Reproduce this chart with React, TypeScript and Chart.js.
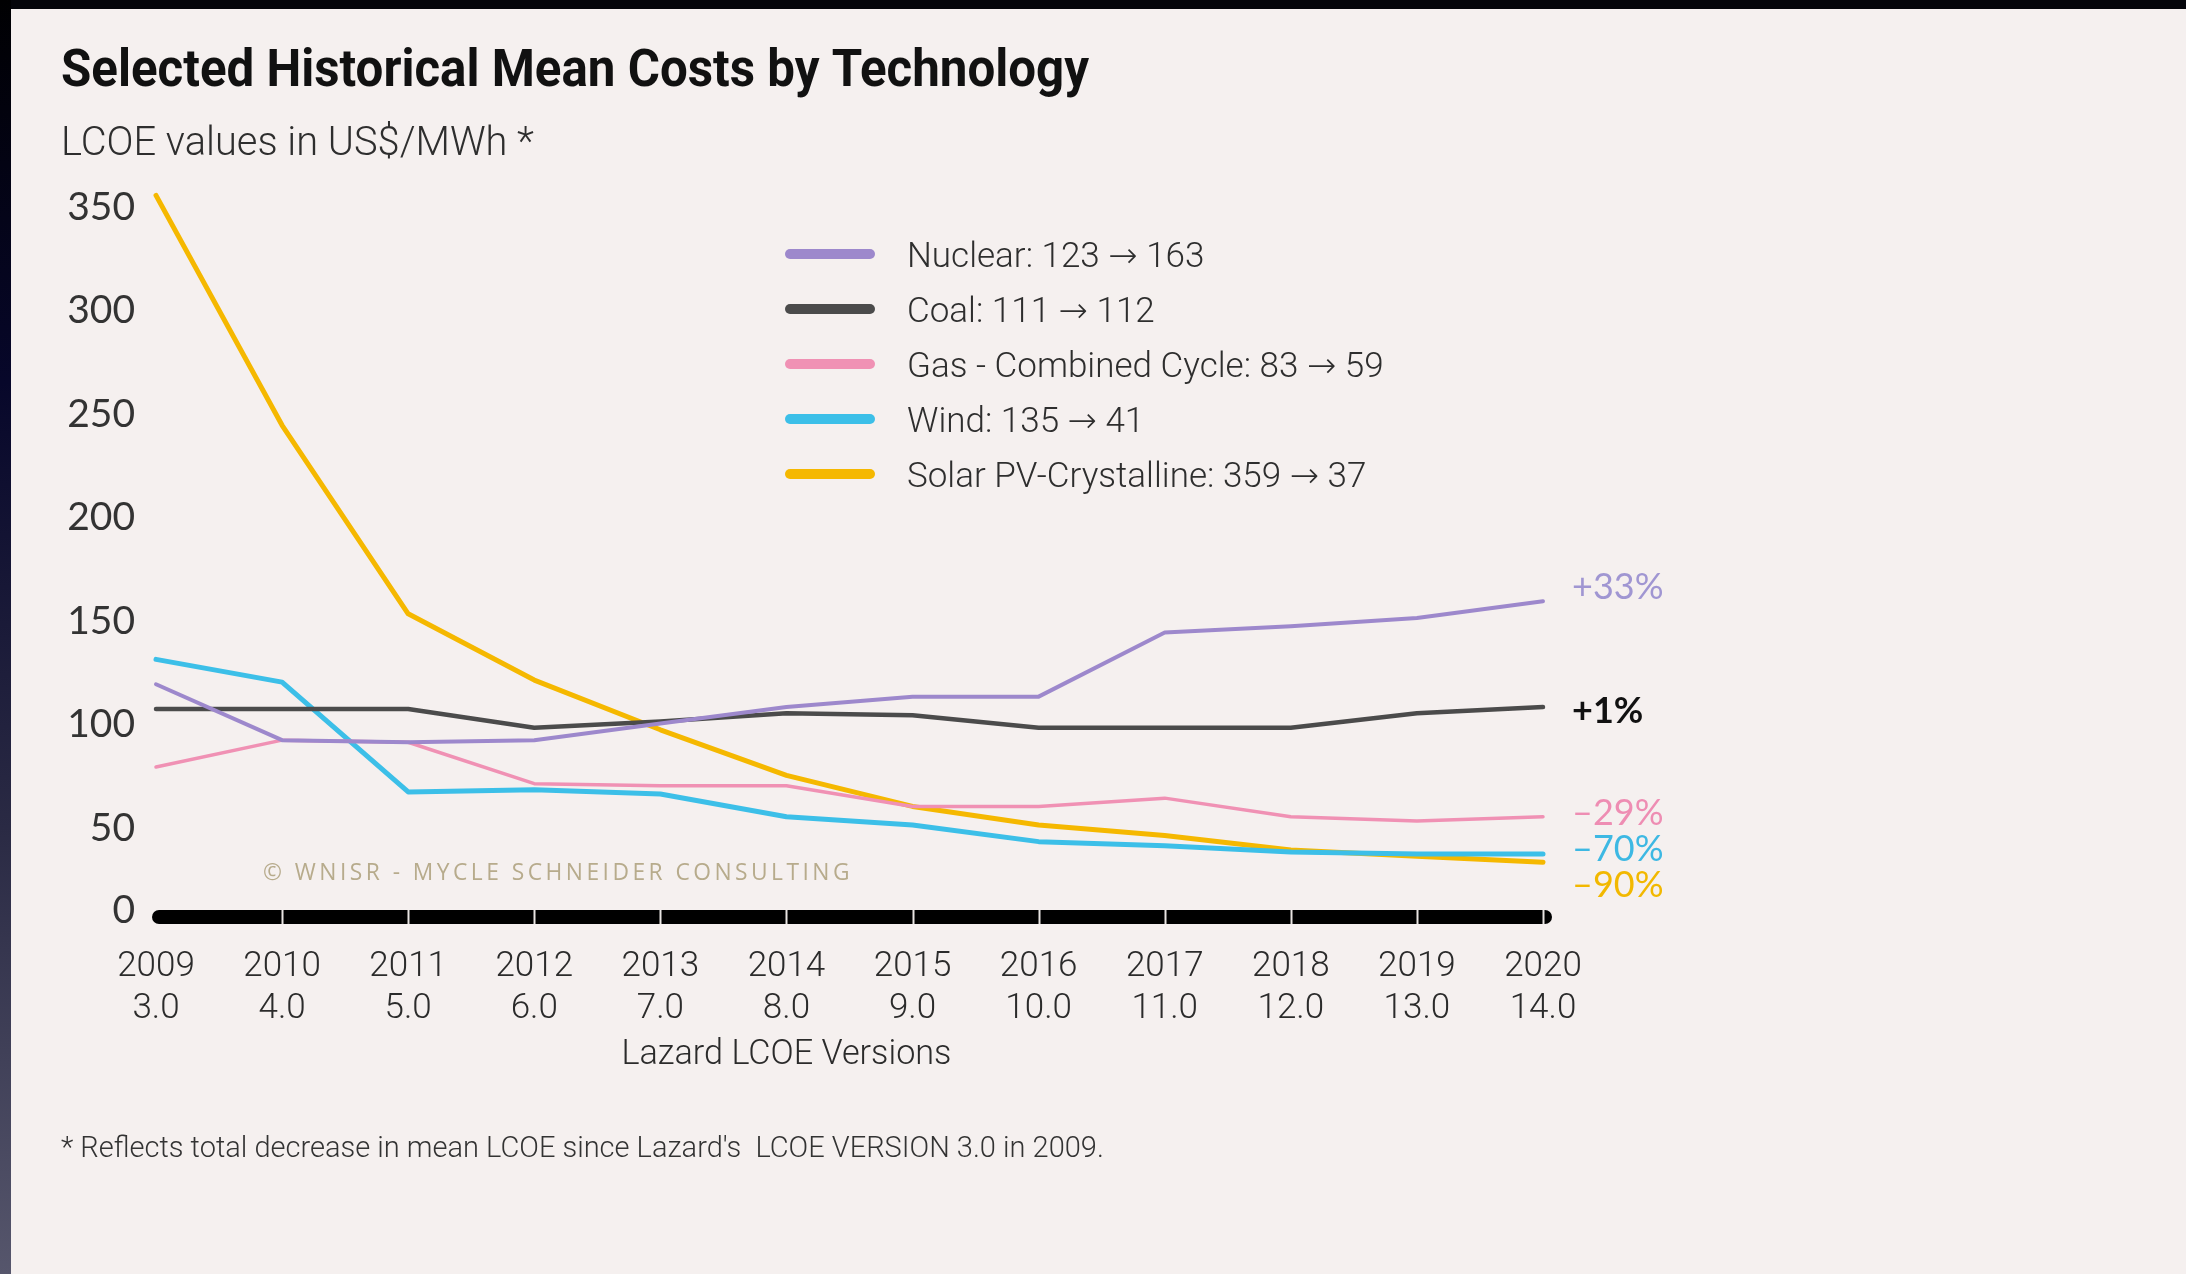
import React, { useEffect, useRef } from 'react';
import { Chart, registerables } from 'chart.js';

Chart.register(...registerables);

// ---------- data ----------
const years = ['2009', '2010', '2011', '2012', '2013', '2014', '2015', '2016', '2017', '2018', '2019', '2020'];
const versions = ['3.0', '4.0', '5.0', '6.0', '7.0', '8.0', '9.0', '10.0', '11.0', '12.0', '13.0', '14.0'];

const nuclear = [123, 96, 95, 96, 104, 112, 117, 117, 148, 151, 155, 163];
const coal = [111, 111, 111, 102, 105, 109, 108, 102, 102, 102, 109, 112];
const gas = [83, 96, 95, 75, 74, 74, 64, 64, 68, 59, 57, 59];
const wind = [135, 124, 71, 72, 70, 59, 55, 47, 45, 42, 41, 41];
const solar = [359, 248, 157, 125, 101, 79, 64, 55, 50, 43, 40, 37];

const legendLabels = [
  'Nuclear: 123 \u2192 163',
  'Coal: 111 \u2192 112',
  'Gas - Combined Cycle: 83 \u2192 59',
  'Wind: 135 \u2192 41',
  'Solar PV-Crystalline: 359 \u2192 37',
];
const endLabels = ['+33%', '+1%', '\u201329%', '\u201370%', '\u201390%'];
const yTicks = [0, 50, 100, 150, 200, 250, 300, 350];

const titleText = 'Selected Historical Mean Costs by Technology';
const subtitleText = 'LCOE values in US$/MWh *';
const xTitleText = 'Lazard LCOE Versions';
const footnoteText = "* Reflects total decrease in mean LCOE since Lazard's  LCOE VERSION 3.0 in 2009.";
const watermarkText = '\u00A9 WNISR - MYCLE SCHNEIDER CONSULTING';

// ---------- style ----------
const W = 2186;
const H = 1274;
const BG = '#f5f0ef';
const seriesData = [nuclear, coal, gas, wind, solar];
const lineColors = ['#9d88cc', '#4b4b4b', '#f091b4', '#3cbfe8', '#f5b800'];
const lineWidths = [4, 4.5, 3.5, 5, 5];
const labelColors = ['#a096d2', '#111111', '#ee8db3', '#3db8e3', '#f2b800'];
const labelWeights = ['400', '700', '400', '400', '400'];
const labelDy = [-14, 4, -3, -5, 23];
const BAR_LIFT = 22;
const TEXT_FONT = 'Roboto, "DejaVu Sans"';

const bgPlugin = {
  id: 'bgFrame',
  beforeDraw(chart: any) {
    const ctx = chart.ctx as CanvasRenderingContext2D;
    ctx.save();
    ctx.fillStyle = BG;
    ctx.fillRect(0, 0, chart.width, chart.height);
    ctx.fillStyle = '#05050a';
    ctx.fillRect(0, 0, chart.width, 9);
    const g = ctx.createLinearGradient(0, 0, 0, chart.height);
    g.addColorStop(0, '#000002');
    g.addColorStop(0.3, '#07072a');
    g.addColorStop(0.65, '#2a2a44');
    g.addColorStop(1, '#56566c');
    ctx.fillStyle = g;
    ctx.fillRect(0, 0, 11, chart.height);
    ctx.restore();
  },
};

const decoPlugin = {
  id: 'deco',
  beforeDatasetsDraw(chart: any) {
    const ctx = chart.ctx as CanvasRenderingContext2D;
    const xs = chart.scales.x;
    const ys = chart.scales.y;
    const n = years.length;
    const x0 = xs.getPixelForValue(0) - 4;
    const x1 = xs.getPixelForValue(n - 1) + 9;
    const yb = ys.getPixelForValue(0) - BAR_LIFT;
    const th = 14;
    ctx.save();
    // thick black axis bar
    ctx.fillStyle = '#000';
    ctx.beginPath();
    (ctx as any).roundRect(x0, yb - th / 2, x1 - x0, th, th / 2);
    ctx.fill();
    // separators
    ctx.strokeStyle = '#e8e4e2';
    ctx.lineWidth = 2;
    for (let i = 1; i < n; i++) {
      const px = Math.round(xs.getPixelForValue(i)) + 0.5;
      ctx.beginPath();
      ctx.moveTo(px, yb - th / 2);
      ctx.lineTo(px, yb + th / 2);
      ctx.stroke();
    }
    // zero label next to the bar
    ctx.fillStyle = '#333';
    ctx.font = '400 39px Lato';
    ctx.textAlign = 'right';
    ctx.textBaseline = 'middle';
    ctx.fillText(String(yTicks[0]), chart.chartArea.left - 21, yb - 7);
    // watermark
    ctx.fillStyle = '#b7ab8c';
    ctx.font = '400 23px "Open Sans"';
    (ctx as any).letterSpacing = '3.5px';
    ctx.textBaseline = 'middle';
    ctx.textAlign = 'left';
    ctx.fillText(watermarkText, 263, 873, 590);
    (ctx as any).letterSpacing = '0px';
    ctx.restore();
  },
  afterDraw(chart: any) {
    const ctx = chart.ctx as CanvasRenderingContext2D;
    const xs = chart.scales.x;
    const ys = chart.scales.y;
    const area = chart.chartArea;
    ctx.save();
    ctx.textAlign = 'left';
    ctx.textBaseline = 'alphabetic';

    // title
    ctx.fillStyle = '#111';
    ctx.font = '700 51px Roboto';
    ctx.fillText(titleText, 61, 86, 1028);

    // subtitle
    ctx.fillStyle = '#2e2e2e';
    ctx.font = `300 40px ${TEXT_FONT}`;
    ctx.fillText(subtitleText, 61, 155, 473);

    // footnote
    ctx.fillStyle = '#333';
    ctx.font = `300 29px ${TEXT_FONT}`;
    ctx.fillText(footnoteText, 61, 1157, 1044);

    // x-axis title, centered under 2014
    ctx.textAlign = 'center';
    ctx.fillStyle = '#2b2b2b';
    ctx.font = `300 35px ${TEXT_FONT}`;
    ctx.fillText(xTitleText, xs.getPixelForValue(5), 1064, 330);

    // legend
    const legendRows = [254, 309, 364, 419, 474];
    ctx.textAlign = 'left';
    chart.data.datasets.forEach((ds: any, i: number) => {
      const y = legendRows[i];
      ctx.strokeStyle = ds.borderColor;
      ctx.lineWidth = 10;
      ctx.lineCap = 'round';
      ctx.beginPath();
      ctx.moveTo(790, y);
      ctx.lineTo(870, y);
      ctx.stroke();
      ctx.fillStyle = '#2e2e2e';
      ctx.font = `300 35px ${TEXT_FONT}`;
      ctx.fillText(ds.label, 907, y + 12.5);
    });

    // end labels
    const last = years.length - 1;
    chart.data.datasets.forEach((ds: any, i: number) => {
      const py = ys.getPixelForValue(ds.data[last]) + labelDy[i];
      ctx.fillStyle = labelColors[i];
      ctx.font = `${labelWeights[i]} 36px Lato`;
      ctx.textBaseline = 'middle';
      ctx.fillText(endLabels[i], area.right + 29, py);
    });
    ctx.restore();
  },
};

export default function App() {
  const ref = useRef<HTMLCanvasElement>(null);

  useEffect(() => {
    document.body.style.margin = '0';
    document.body.style.background = BG;
    const canvas = ref.current!;
    const chart = new Chart(canvas, {
      type: 'line',
      data: {
        labels: years.map((y, i) => [y, versions[i]]),
        datasets: seriesData.map((d, i) => ({
          label: legendLabels[i],
          data: d,
          borderColor: lineColors[i],
          backgroundColor: lineColors[i],
          borderWidth: lineWidths[i],
          pointRadius: 0,
          tension: 0,
          fill: false,
          clip: false as any,
          borderCapStyle: 'round' as const,
          borderJoinStyle: 'round' as const,
        })),
      },
      options: {
        responsive: false,
        animation: false,
        devicePixelRatio: 1,
        layout: { padding: { left: 20, right: 643, top: 214, bottom: 185 } },
        plugins: {
          legend: { display: false },
          tooltip: { enabled: false },
          title: { display: false },
        },
        scales: {
          x: {
            type: 'category',
            offset: false,
            grid: { display: false, drawTicks: false },
            border: { display: false },
            ticks: {
              autoSkip: false,
              maxRotation: 0,
              padding: 7,
              color: '#2b2b2b',
              font: { family: 'Roboto', size: 35, weight: '300' as any, lineHeight: 1.2 },
            },
            afterFit: (s: any) => {
              s.height = 150;
            },
          },
          y: {
            min: yTicks[0],
            max: yTicks[yTicks.length - 1],
            afterBuildTicks: (s: any) => {
              s.ticks = yTicks.map((v) => ({ value: v }));
            },
            grid: { display: false, drawTicks: false },
            border: { display: false },
            ticks: {
              padding: 21,
              labelOffset: -7,
              color: '#333',
              font: { family: 'Lato', size: 39 },
              callback: (v: any) => (Number(v) === yTicks[0] ? '' : String(v)),
            },
            afterFit: (s: any) => {
              s.width = 136;
            },
          },
        },
      },
      plugins: [bgPlugin, decoPlugin],
    });
    return () => chart.destroy();
  }, []);

  return <canvas ref={ref} width={W} height={H} style={{ display: 'block' }} />;
}
